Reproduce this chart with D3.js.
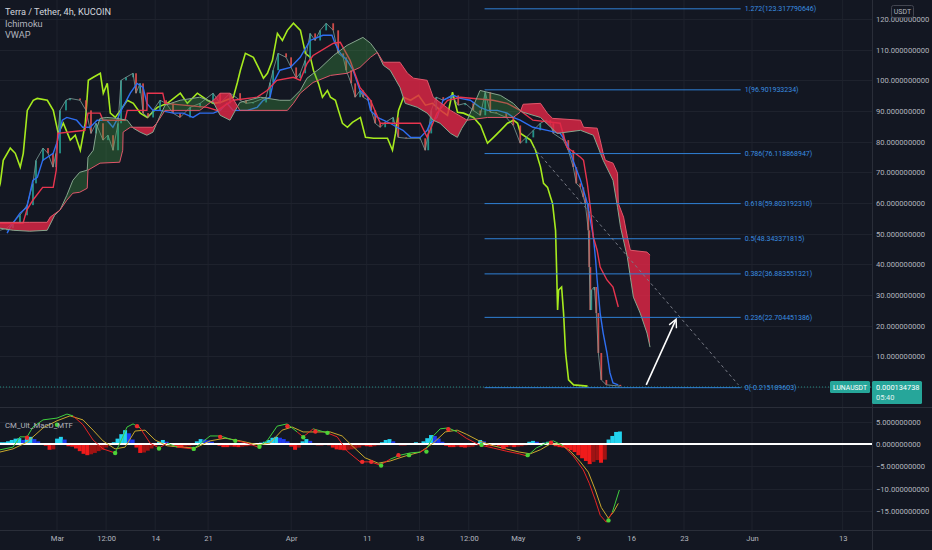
<!DOCTYPE html>
<html>
<head>
<meta charset="utf-8">
<script src="https://cdn.jsdelivr.net/npm/d3@7"></script>
<style>
  html, body { margin: 0; padding: 0; background: #131722; }
  svg { display: block; font-family: Roboto, "Liberation Sans", sans-serif; }
</style>
</head>
<body>
<div id="chart"></div>
<script>
// ---- data (day offsets from 1 Mar 2022, prices in USDT) ----
const closePts = [[-7.55,51.1],[-6.62,51.8],[-5.83,53.7],[-4.90,56.0],[-3.97,59.3],[-3.18,66.4],[-2.78,73.9],[-1.85,77.9],[-1.19,76.2],[-0.53,71.7],[-0.13,76.2],[0.40,90.2],[1.19,93.5],[1.72,94.1],[3.05,93.5],[3.84,90.2],[4.50,82.7],[5.17,86.0],[6.09,80.5],[6.75,82.1],[7.42,77.2],[8.08,86.0],[8.48,100.0],[9.14,101.0],[10.07,102.3],[10.46,95.8],[10.99,99.0],[11.39,89.3],[12.05,87.9],[12.72,90.2],[13.64,93.5],[14.44,92.5],[15.36,89.3],[16.29,87.9],[17.62,91.2],[18.94,92.5],[20.66,95.8],[21.59,92.5],[22.91,95.8],[24.24,93.5],[25.03,92.5],[25.96,92.8],[27.68,94.5],[28.21,99.3],[28.61,103.3],[29.27,108.8],[30.33,107.5],[30.99,104.2],[31.66,100.7],[32.19,102.3],[32.85,106.5],[33.51,115.3],[34.17,113.0],[34.83,116.3],[35.63,118.6],[36.56,116.3],[37.22,108.8],[37.88,107.5],[38.28,103.3],[38.94,99.0],[39.47,94.5],[40.13,96.7],[40.53,94.5],[41.19,93.5],[41.59,90.2],[42.12,86.0],[42.78,84.7],[43.44,86.3],[44.50,87.9],[45.17,81.4],[46.23,81.1],[48.08,81.1],[48.74,77.2],[49.14,82.7],[49.54,90.2],[50.20,94.5],[51.13,93.5],[52.19,95.1],[53.11,91.9],[54.04,92.5],[55.10,90.2],[56.03,88.6],[56.69,96.1],[57.35,89.6],[58.15,89.3],[59.47,87.9],[60.40,85.3],[61.32,79.5],[62.12,81.4],[63.05,83.7],[63.97,86.0],[64.77,87.0],[65.30,86.0],[65.70,82.7],[67.02,80.5],[67.68,77.2],[68.34,71.7],[68.74,66.4],[69.27,65.1],[69.67,61.9],[69.93,59.9],[70.33,51.1],[70.46,39.1],[70.60,25.1],[70.73,31.6],[71.13,32.6],[71.39,24.1],[71.66,11.1],[72.05,2.3],[72.72,0.7],[74.57,0.3]];

const tenkanPts = [[-6.6,50.2],[-6.2,52.1],[-4.9,56.7],[-4.0,58.6],[-3.2,67.4],[-2.6,68.4],[-1.9,73.9],[-0.5,76.2],[0.1,80.5],[0.7,87.0],[1.3,87.9],[2.6,87.0],[3.4,84.7],[4.4,84.7],[5.3,87.0],[6.6,87.0],[7.4,84.7],[7.9,87.0],[8.7,91.2],[9.7,95.8],[10.6,99.0],[11.4,97.7],[11.9,92.5],[12.7,90.2],[13.6,90.2],[15.4,89.3],[16.7,89.3],[18.0,87.9],[18.9,89.3],[20.7,89.3],[21.6,90.2],[22.5,92.5],[23.3,90.2],[25.2,90.2],[26.5,91.2],[27.3,93.5],[28.2,94.5],[28.6,99.0],[29.5,103.3],[30.9,104.2],[32.2,107.5],[33.5,113.0],[35.2,114.7],[36.4,114.7],[36.8,112.1],[37.5,108.8],[38.4,106.5],[39.2,103.3],[40.1,96.7],[41.1,94.5],[41.5,90.2],[42.4,87.9],[43.2,87.0],[44.1,86.0],[45.0,84.7],[45.8,83.7],[46.8,81.4],[48.1,81.4],[49.0,83.7],[49.4,86.0],[50.3,87.9],[51.1,93.5],[52.5,95.1],[53.4,94.1],[54.7,93.5],[56.0,91.2],[57.0,90.2],[58.3,90.2],[59.6,89.3],[60.4,87.9],[61.3,87.0],[63.0,84.7],[64.9,83.7],[66.6,82.7],[67.5,79.5],[68.3,73.9],[69.3,67.4],[69.7,64.2],[70.2,59.9],[70.6,54.4],[71.0,48.9],[71.3,41.4],[71.5,34.9],[71.9,24.1],[72.3,17.6],[72.8,11.1],[73.2,4.6],[73.6,1.3],[74.3,0.7]];

const kijunPts = [[-7.55,53.4],[-4.5,53.4],[-4.0,57.7],[-3.2,60.9],[-1.9,65.1],[-0.5,65.1],[-0.1,70.7],[0.1,82.7],[3.7,83.7],[4.1,89.3],[5.7,89.3],[6.1,87.0],[9.0,87.0],[9.3,90.2],[11.9,90.2],[11.95,95.8],[14.0,95.8],[14.3,92.5],[19.9,91.2],[21.2,90.2],[23.3,93.5],[26.5,94.5],[27.8,96.7],[29.1,100.0],[31.3,101.0],[32.2,100.0],[33.1,105.5],[33.9,108.1],[36.6,112.1],[37.5,112.4],[38.8,106.5],[40.1,97.7],[41.5,93.5],[42.8,86.0],[48.1,86.0],[49.0,81.4],[50.3,89.3],[51.7,93.5],[53.4,94.5],[57.7,93.5],[59.6,92.5],[61.3,90.2],[63.0,87.0],[66.6,86.0],[67.5,78.2],[69.3,74.9],[69.7,73.9],[70.2,66.4],[70.6,58.6],[71.0,48.9],[71.5,44.6],[71.9,39.1],[72.8,34.9],[73.6,32.6],[74.3,26.1]];

const spanAPts = [[-7.55,51.8],[-5.8,51.1],[-3.6,50.8],[-1.3,51.1],[-0.3,56.0],[0.4,57.7],[1.3,62.5],[2.1,67.4],[3.0,70.0],[4.0,70.7],[4.1,74.9],[4.8,77.2],[5.3,84.7],[5.7,87.6],[6.6,87.9],[7.9,87.6],[9.3,87.0],[10.1,84.4],[11.0,83.1],[11.9,82.1],[12.7,83.1],[13.2,86.0],[14.3,91.9],[16.3,93.5],[18.9,94.5],[20.7,92.8],[21.6,88.6],[22.9,87.0],[24.2,92.8],[26.9,94.5],[29.5,93.5],[30.9,93.5],[32.2,96.7],[33.1,100.7],[34.8,103.9],[36.6,108.1],[38.4,111.4],[40.5,114.0],[41.5,112.1],[42.4,109.1],[43.2,104.9],[44.1,103.3],[45.4,97.7],[46.1,92.5],[47.7,91.2],[49.0,89.3],[49.8,87.0],[50.7,86.0],[52.1,82.7],[53.0,81.4],[53.6,84.4],[54.3,87.0],[56.0,96.7],[58.7,95.1],[60.4,92.5],[61.3,90.2],[61.7,89.6],[64.0,87.9],[66.2,82.7],[69.3,83.7],[71.0,82.1],[72.3,73.9],[73.6,67.4],[74.2,58.6],[74.6,52.1],[75.5,42.3],[75.9,35.8],[76.3,29.3],[77.2,24.1],[78.1,17.6],[78.5,13.0]];

const spanBPts = [[-7.55,53.7],[-5.8,53.7],[-3.6,53.7],[-1.3,53.7],[-0.9,55.4],[0.4,57.7],[1.3,60.9],[2.1,63.2],[3.0,63.5],[4.0,64.8],[4.1,70.7],[5.7,73.0],[8.3,73.3],[8.7,77.2],[8.75,83.1],[9.7,84.7],[12.7,84.7],[13.2,86.0],[14.3,90.2],[18.9,90.2],[20.7,93.5],[21.6,95.8],[22.9,95.8],[24.2,90.2],[30.5,90.2],[31.3,92.5],[32.2,95.8],[33.9,99.3],[36.2,101.6],[38.4,102.3],[40.1,104.2],[41.5,107.5],[42.4,109.1],[43.2,105.9],[45.4,105.9],[46.4,102.3],[47.2,100.7],[49.0,100.0],[49.8,94.5],[52.1,90.2],[54.3,87.0],[57.0,87.9],[60.4,87.9],[61.3,89.6],[61.7,92.2],[64.0,92.5],[64.9,89.3],[65.6,87.6],[69.3,87.0],[69.7,84.7],[71.5,84.4],[71.9,80.5],[72.3,76.2],[72.6,73.9],[73.6,73.0],[74.2,69.7],[74.3,59.9],[75.0,55.4],[75.5,48.9],[75.9,44.6],[78.1,44.0],[78.5,43.0]];

const fibRatios = ["1.272", "1", "0.786", "0.618", "0.5", "0.382", "0.236", "0"];
const fibPrices = [123.317790646, 96.901933234, 76.118868947, 59.803192310, 48.343371815, 36.883551321, 22.704451386, -0.215189603];
const fibSpan = [56.6, 90.5];
const trendPts = [[63.05, 78.2], [90.2, 0.7]];
const arrowPts = [[78.0, 0.7], [81.9, 21.8]];
const lastPrice = 0.000134738;

const macdPts = [[-7.55,-1.3],[-5.83,-0.7],[-4.90,1.6],[-3.97,1.6],[-3.18,3.8],[-1.85,5.4],[0,5.8],[1.32,6.7],[2.12,6.3],[3.44,4.3],[4.77,0.9],[6.09,-1.1],[7.68,-2.0],[8.34,0.2],[9.27,3.8],[10.07,4.5],[10.99,3.6],[12.32,0.2],[13.51,-0.9],[14.57,0.2],[15.89,-0.7],[18.01,-1.1],[18.94,0],[20.26,1.8],[21.59,1.8],[23.31,0.9],[25.17,0.2],[26.62,-0.7],[27.81,0.7],[29.14,4.0],[30.46,4.5],[31.79,2.7],[32.58,1.6],[33.91,3.4],[35.76,2.5],[37.09,1.6],[38.41,-1.6],[40.13,-4.0],[41.46,-4.0],[42.78,-4.7],[44.11,-3.4],[45.43,-2.5],[46.75,-2.0],[48.08,-1.8],[49.01,-0.9],[49.80,1.8],[50.73,3.4],[51.79,3.6],[52.98,2.7],[54.17,1.3],[55.89,-0.2],[57.75,-0.9],[59.47,-1.6],[61.19,-2.2],[62.25,-2.7],[63.44,-0.9],[64.77,0.2],[65.70,0.7],[67.02,-0.4],[68.34,-2.7],[69.67,-5.8],[70.46,-8.8],[71.26,-12.6],[71.92,-16.0],[72.72,-17.5],[73.51,-15.3],[74.44,-10.3]];

const signalPts = [[-7.55,-1.8],[-5.83,-1.1],[-3.97,0.4],[-1.85,3.6],[0,5.2],[1.72,6.3],[3.44,5.4],[4.77,3.1],[6.09,0.7],[7.68,-1.1],[9.01,-0.7],[10.33,2.9],[11.66,3.1],[12.98,0.9],[14.57,-0.4],[16.29,-0.7],[18.28,-0.9],[20.26,0.7],[22.25,1.3],[24.24,0.7],[26.62,-0.2],[28.21,0.2],[29.80,3.1],[31.13,3.8],[32.58,2.7],[34.17,2.7],[36.16,2.7],[37.75,1.8],[39.07,-0.4],[40.79,-3.1],[42.52,-4.3],[44.11,-3.8],[46.09,-2.7],[48.08,-1.8],[49.80,0.2],[51.39,2.7],[52.98,3.1],[54.17,2.2],[55.89,0.7],[57.75,-0.4],[59.47,-1.1],[61.19,-1.8],[62.65,-2.2],[63.97,-1.3],[65.30,0],[66.62,0],[67.95,-1.6],[69.27,-4.0],[70.33,-6.3],[71.26,-10.3],[72.05,-14.2],[72.98,-16.6],[73.64,-15.3],[74.30,-13.3]];

const crossUp = [[0,4.3],[7.7,-2.0],[13.5,-1.0],[18.1,-1.1],[23.6,0.7],[26.8,-0.6],[32.6,1.5],[35.8,2.5],[42.9,-4.8],[46.6,-2.5],[48.9,-1.7],[56.2,-0.2],[62.3,-2.5],[73.0,-17.1]];
const crossDown = [[-3.97,1.4],[10.6,4.0],[21.6,1.6],[30.5,4.0],[34.2,2.8],[40.4,-4.0],[41.6,-4.0],[45.2,-2.5],[51.8,3.3],[59.1,-0.7],[65.4,0.3]];

const histStart = -7.5;
const histStep = 0.5;
const histVals = [
  0.4,0.4,0.6,0.9,1.2,1.3,0.9,1.4,1.6,1.1,
  0.6,0.2,-0.4,-1.3,-1.2,1.2,1.6,1.0,-0.5,-0.6,
  -1.0,-1.6,-2.2,-2.5,-2.3,-2.0,-1.6,-1.3,-0.8,-0.3,
  0.4,1.2,2.2,3.1,2.4,1.0,-0.8,-2.0,-1.9,-1.5,
  -1.0,-0.4,0.5,0.9,0.5,-0.3,-0.6,-0.7,-0.7,-0.6,
  -0.5,-0.3,0.6,1.1,1.0,0.8,0.5,0.2,-0.4,-0.7,
  -0.7,-0.6,-0.6,-0.7,-0.6,-0.5,-0.4,-0.2,0.1,0.3,
  0.5,0.9,1.4,1.6,1.4,1.1,0.6,-0.6,-1.3,-0.8,
  0.6,1.1,0.7,-0.2,-0.3,-0.3,-0.2,-0.3,-0.8,-1.2,
  -1.3,-1.4,-1.3,-1.2,-1.0,-0.8,-0.4,-0.5,-0.6,-0.5,
  -0.3,0.4,0.9,1.1,0.6,-0.2,-0.3,-0.3,-0.2,-0.1,
  0.4,0.2,0.6,1.3,2.0,1.8,1.2,0.5,-0.4,-0.7,
  -0.7,-0.6,-0.7,-0.8,-0.7,-0.6,-0.3,0.9,0.6,-0.4,
  -0.5,-0.3,-0.5,-0.7,-0.7,-0.6,-0.7,-0.6,-0.5,-0.3,
  0.5,0.7,0.5,0.1,0.3,0.5,0.3,-0.5,-0.7,-0.8,
  -1.0,-1.4,-1.8,-2.5,-3.2,-3.8,-4.5,-4.0,-3.6,-4.2,
  -3.5,1.0,1.8,2.7,2.8
];

const priceTicks = [10, 20, 30, 40, 50, 60, 70, 80, 90, 100, 110, 120];
const macdTicks = [5, 0, -5, -10, -15];
const timeTicks = ["2022-03-01T00:00Z", "2022-03-07T12:00Z", "2022-03-14T00:00Z", "2022-03-21T00:00Z", "2022-04-01T00:00Z", "2022-04-11T00:00Z", "2022-04-18T00:00Z", "2022-04-24T12:00Z", "2022-05-01T00:00Z", "2022-05-09T00:00Z", "2022-05-16T00:00Z", "2022-05-23T00:00Z", "2022-06-01T00:00Z", "2022-06-13T00:00Z"];
const timeLabels = ["Mar", "12:00", "14", "21", "Apr", "11", "18", "12:00", "May", "9", "16", "23", "Jun", "13"];
const legendLines = ["Terra / Tether, 4h, KUCOIN", "Ichimoku", "VWAP"];

// ---- layout ----
const W = 932, H = 550;
const plotW = 872;
const mainBottom = 407, macdTop = 408, macdBottom = 530;
const T0 = Date.UTC(2022, 2, 1);
const dt = d => new Date(T0 + d * 864e5);
const laggingShift = 26 * 4 / 24; // 26 bars of 4h

const x = d3.scaleUtc()
  .domain([new Date(Date.UTC(2022, 2, 1)), new Date(Date.UTC(2022, 5, 1))])
  .range([57, 752]);
const y = d3.scaleLinear().domain([0, 120]).range([387, 19]);
const ym = d3.scaleLinear().domain([0, -15]).range([444, 511]);
const fmt = d3.format(".9f");

const svg = d3.select("#chart").append("svg")
  .attr("width", W).attr("height", H)
  .style("background", "#131722");

const defs = svg.append("defs");
defs.append("clipPath").attr("id", "clipMain")
  .append("rect").attr("x", 0).attr("y", 0).attr("width", plotW).attr("height", mainBottom);
defs.append("clipPath").attr("id", "clipMacd")
  .append("rect").attr("x", 0).attr("y", macdTop).attr("width", plotW).attr("height", macdBottom - macdTop);
defs.append("marker").attr("id", "arrowHead")
  .attr("viewBox", "0 0 10 10").attr("refX", 8).attr("refY", 5)
  .attr("markerUnits", "userSpaceOnUse")
  .attr("markerWidth", 10).attr("markerHeight", 10).attr("orient", "auto")
  .append("path").attr("d", "M1,1 L9,5 L1,9")
  .attr("fill", "none").attr("stroke", "#ffffff").attr("stroke-width", 1.4);

// ---- grid ----
const grid = svg.append("g");
grid.selectAll(".vgrid").data(timeTicks).enter().append("line")
  .attr("x1", d => x(new Date(d))).attr("x2", d => x(new Date(d)))
  .attr("y1", 0).attr("y2", macdBottom)
  .attr("stroke", "#1e222d").attr("stroke-width", 1);
grid.selectAll(".hgrid").data(priceTicks.concat([0])).enter().append("line")
  .attr("x1", 0).attr("x2", plotW)
  .attr("y1", d => Math.round(y(d)) + 0.5).attr("y2", d => Math.round(y(d)) + 0.5)
  .attr("stroke", "#1e222d");
grid.selectAll(".mgrid").data(macdTicks).enter().append("line")
  .attr("x1", 0).attr("x2", plotW)
  .attr("y1", d => Math.round(ym(d)) + 0.5).attr("y2", d => Math.round(ym(d)) + 0.5)
  .attr("stroke", "#1e222d");

// ---- main pane ----
const main = svg.append("g").attr("clip-path", "url(#clipMain)");
const line = d3.line().x(p => x(dt(p[0]))).y(p => y(p[1]));

// last price line
main.append("line")
  .attr("x1", 0).attr("x2", plotW)
  .attr("y1", y(lastPrice)).attr("y2", y(lastPrice))
  .attr("stroke", "#26a69a").attr("stroke-dasharray", "1,2").attr("opacity", 0.8);

// lagging span
main.append("path")
  .datum(closePts.map(p => [p[0] - laggingShift, p[1]]))
  .attr("d", line).attr("fill", "none")
  .attr("stroke", "#a6ea1e").attr("stroke-width", 1.6);

// candles (open = previous close)
const candles = closePts.slice(1).map((p, i) => ({ d: p[0], o: closePts[i][1], c: p[1] }));
main.selectAll(".candle").data(candles).enter().append("rect")
  .attr("x", c => x(dt(c.d)) - 0.9)
  .attr("width", 1.8)
  .attr("y", c => y(Math.max(c.o, c.c)))
  .attr("height", c => Math.max(1, Math.abs(y(c.o) - y(c.c))))
  .attr("fill", c => c.c >= c.o ? "#26a69a" : "#ef5350")
  .attr("opacity", 0.85);
main.append("path").datum(closePts)
  .attr("d", line).attr("fill", "none")
  .attr("stroke", "#7d9c96").attr("stroke-width", 1).attr("opacity", 0.8);

// conversion and base lines
main.append("path").datum(tenkanPts)
  .attr("d", line).attr("fill", "none")
  .attr("stroke", "#2e6ff2").attr("stroke-width", 1.4);
main.append("path").datum(kijunPts)
  .attr("d", line).attr("fill", "none")
  .attr("stroke", "#e8354f").attr("stroke-width", 1.4);

// cloud: green where span A above B, red where below
const areaUp = d3.area().x(p => x(dt(p[0]))).y0(0).y1(p => y(p[1]));
const areaDown = d3.area().x(p => x(dt(p[0]))).y0(mainBottom).y1(p => y(p[1]));
defs.append("clipPath").attr("id", "clipAboveB").append("path").attr("d", areaUp(spanBPts));
defs.append("clipPath").attr("id", "clipBelowB").append("path").attr("d", areaDown(spanBPts));
main.append("g").attr("clip-path", "url(#clipAboveB)")
  .append("path").attr("d", areaDown(spanAPts))
  .attr("fill", "#43a047").attr("opacity", 0.33);
main.append("g").attr("clip-path", "url(#clipBelowB)")
  .append("path").attr("d", areaUp(spanAPts))
  .attr("fill", "#e02646").attr("opacity", 0.82);
main.append("path").datum(spanAPts)
  .attr("d", line).attr("fill", "none")
  .attr("stroke", "#86a58e").attr("stroke-width", 1);
main.append("path").datum(spanBPts)
  .attr("d", line).attr("fill", "none")
  .attr("stroke", "#e0566a").attr("stroke-width", 1);

// fibonacci levels
const fib = main.selectAll(".fib").data(fibPrices).enter().append("g");
fib.append("line")
  .attr("x1", x(dt(fibSpan[0]))).attr("x2", x(dt(fibSpan[1])))
  .attr("y1", d => y(d)).attr("y2", d => y(d))
  .attr("stroke", "#2f80d6").attr("stroke-width", 1);
fib.append("text")
  .attr("x", x(dt(fibSpan[1])) + 4).attr("y", d => y(d))
  .attr("dy", "0.35em")
  .attr("fill", "#3a8ee0").style("font-size", "7px")
  .text((d, i) => `${fibRatios[i]}(${d.toFixed(9)})`);

// dashed trend line and arrow
main.append("path").datum(trendPts)
  .attr("d", line).attr("fill", "none")
  .attr("stroke", "#787b86").attr("stroke-width", 1).attr("stroke-dasharray", "3,3");
main.append("path").datum(arrowPts)
  .attr("d", line).attr("fill", "none")
  .attr("stroke", "#ffffff").attr("stroke-width", 1.6)
  .attr("marker-end", "url(#arrowHead)");

// legend
svg.selectAll(".legend").data(legendLines).enter().append("text")
  .attr("x", 5).attr("y", (d, i) => 15 + i * 11.5)
  .attr("fill", (d, i) => i === 0 ? "#d1d4dc" : "#b2b5be")
  .style("font-size", "9.2px")
  .text(d => d);

// ---- MACD pane ----
const macd = svg.append("g").attr("clip-path", "url(#clipMacd)");
const bw = x(dt(histStep)) - x(dt(0));
macd.selectAll(".hist").data(histVals).enter().append("rect")
  .attr("x", (v, i) => x(dt(histStart + i * histStep)) - bw / 2)
  .attr("width", bw + 0.2)
  .attr("y", v => Math.min(ym(v), ym(0)))
  .attr("height", v => Math.abs(ym(v) - ym(0)))
  .attr("fill", (v, i) => {
    const prev = i > 0 ? histVals[i - 1] : v;
    if (v >= 0) return v >= prev ? "#22d3ee" : "#1f3cf0";
    return v <= prev ? "#f01b1b" : "#a01313";
  });

macd.append("line")
  .attr("x1", 0).attr("x2", plotW)
  .attr("y1", ym(0)).attr("y2", ym(0))
  .attr("stroke", "#ffffff").attr("stroke-width", 2);

const mline = d3.line().x(p => x(dt(p[0]))).y(p => ym(p[1]));
macd.append("path").datum(signalPts)
  .attr("d", mline).attr("fill", "none")
  .attr("stroke", "#c9a82c").attr("stroke-width", 1);
const sigAt = d3.scaleLinear().domain(signalPts.map(p => p[0])).range(signalPts.map(p => p[1])).clamp(true);
const segs = macdPts.slice(1).map((p, i) => [macdPts[i], p]);
macd.selectAll(".mseg").data(segs).enter().append("path")
  .attr("d", mline).attr("fill", "none")
  .attr("stroke", s => (s[0][1] + s[1][1]) / 2 >= (sigAt(s[0][0]) + sigAt(s[1][0])) / 2 ? "#3fcf3f" : "#e82424")
  .attr("stroke-width", 1);
macd.selectAll(".cup").data(crossUp).enter().append("circle")
  .attr("cx", p => x(dt(p[0]))).attr("cy", p => ym(p[1])).attr("r", 2.2)
  .attr("fill", "#4cd137");
macd.selectAll(".cdn").data(crossDown).enter().append("circle")
  .attr("cx", p => x(dt(p[0]))).attr("cy", p => ym(p[1])).attr("r", 2.2)
  .attr("fill", "#ef2b2b");

svg.append("text")
  .attr("x", 5).attr("y", 428)
  .attr("fill", "#b2b5be").style("font-size", "7.8px")
  .text("CM_Ult_MacD_MTF");

// ---- separators ----
svg.append("line").attr("x1", 0).attr("x2", W).attr("y1", macdTop - 0.5).attr("y2", macdTop - 0.5).attr("stroke", "#2a2e39");
svg.append("line").attr("x1", 0).attr("x2", W).attr("y1", macdBottom + 0.5).attr("y2", macdBottom + 0.5).attr("stroke", "#2a2e39");
svg.append("line").attr("x1", plotW + 0.5).attr("x2", plotW + 0.5).attr("y1", 0).attr("y2", H).attr("stroke", "#2a2e39");

// ---- axes ----
const yAxis = svg.append("g")
  .attr("transform", `translate(${plotW},0)`)
  .call(d3.axisRight(y).tickValues(priceTicks).tickFormat(fmt).tickSize(0).tickPadding(4));
const mAxis = svg.append("g")
  .attr("transform", `translate(${plotW},0)`)
  .call(d3.axisRight(ym).tickValues(macdTicks).tickFormat(fmt).tickSize(0).tickPadding(4));
const xAxis = svg.append("g")
  .attr("transform", `translate(0,${macdBottom})`)
  .call(d3.axisBottom(x).tickValues(timeTicks.map(d => new Date(d))).tickFormat((d, i) => timeLabels[i]).tickSize(0).tickPadding(6));
[yAxis, mAxis, xAxis].forEach(a => {
  a.select(".domain").remove();
  a.selectAll("text").attr("fill", "#b2b5be").style("font-size", "7.6px").style("font-family", "Roboto, sans-serif");
});

// USDT tag
svg.append("rect").attr("x", 891.5).attr("y", 5.5).attr("width", 22).attr("height", 12).attr("rx", 2)
  .attr("fill", "#131722").attr("stroke", "#434651");
svg.append("text").attr("x", 902.5).attr("y", 14).attr("text-anchor", "middle")
  .attr("fill", "#b2b5be").style("font-size", "7px").text("USDT");

// last price tags
svg.append("rect").attr("x", 830).attr("y", 381).attr("width", 40).attr("height", 12).attr("rx", 1.5)
  .attr("fill", "#26a69a");
svg.append("text").attr("x", 850).attr("y", 390).attr("text-anchor", "middle")
  .attr("fill", "#ffffff").style("font-size", "6.8px").text("LUNAUSDT");
svg.append("rect").attr("x", 872).attr("y", 381).attr("width", 50).attr("height", 23).attr("rx", 1.5)
  .attr("fill", "#26a69a");
svg.append("text").attr("x", 876).attr("y", 390)
  .attr("fill", "#ffffff").style("font-size", "7.4px").text(lastPrice.toFixed(9));
svg.append("text").attr("x", 876).attr("y", 400)
  .attr("fill", "#e0f2f1").style("font-size", "7.4px").text("05:40");
</script>
</body>
</html>
